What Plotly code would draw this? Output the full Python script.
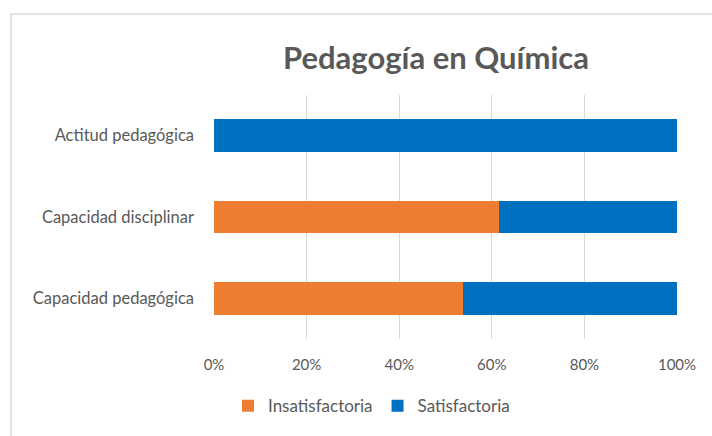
import plotly.graph_objects as go

categories = ["Capacidad pedagógica", "Capacidad disciplinar", "Actitud pedagógica"]
insatisfactoria = [53.8, 61.5, 0.0]
satisfactoria = [46.2, 38.5, 100.0]
tick_vals = [0, 20, 40, 60, 80, 100]
tick_text = ["0%", "20%", "40%", "60%", "80%", "100%"]

W, H = 712, 436
L, R, T, B = 214, 35, 95, 94
pw, ph = W - L - R, H - T - B
FONT = "Lato, Carlito, Calibri, sans-serif"

def px_to_paper_x(x):
    return (x - L) / pw

def px_to_paper_y(y):
    return (H - B - y) / ph

fig = go.Figure()
fig.add_trace(go.Bar(y=categories, x=insatisfactoria, name="Insatisfactoria",
                     orientation="h", marker=dict(color="#ED7D31", line=dict(width=0))))
fig.add_trace(go.Bar(y=categories, x=satisfactoria, name="Satisfactoria",
                     orientation="h", marker=dict(color="#0070C0", line=dict(width=0))))

fig.update_layout(
    width=W, height=H,
    barmode="stack", bargap=0.6,
    margin=dict(l=L, r=R, t=T, b=B),
    paper_bgcolor="white", plot_bgcolor="white",
    font=dict(family=FONT, color="#595959", size=15),
    title=dict(text="<b>Pedagogía en Química</b>", x=px_to_paper_x(436), xref="paper",
               xanchor="center", y=1 - 58 / H, yanchor="middle",
               font=dict(size=31, color="#595959", family=FONT)),
    xaxis=dict(range=[0, 100], tickvals=tick_vals, ticktext=tick_text,
               showgrid=True, gridcolor="#D9D9D9", gridwidth=1,
               zeroline=False, showline=False, ticks="", ticklen=0,
               ticklabelstandoff=15,
               tickfont=dict(size=15, color="#595959")),
    yaxis=dict(showgrid=False, zeroline=False, showline=False, ticks="",
               ticklabelstandoff=19, tickfont=dict(size=16.5, color="#595959")),
    legend=dict(orientation="h", x=px_to_paper_x(228), xanchor="left",
                y=px_to_paper_y(410), yanchor="middle",
                font=dict(size=17, color="#595959"), traceorder="normal",
                itemwidth=30, bgcolor="rgba(0,0,0,0)"),
    shapes=[dict(type="rect", xref="paper", yref="paper",
                 x0=px_to_paper_x(11), x1=px_to_paper_x(730),
                 y0=px_to_paper_y(450), y1=px_to_paper_y(13),
                 line=dict(color="#D9D9D9", width=1.5), fillcolor="rgba(0,0,0,0)",
                 layer="below")],
)

fig.write_html("out.html", config={"displayModeBar": False},
               post_script="document.body.style.margin='0';document.body.style.overflow='hidden';")
